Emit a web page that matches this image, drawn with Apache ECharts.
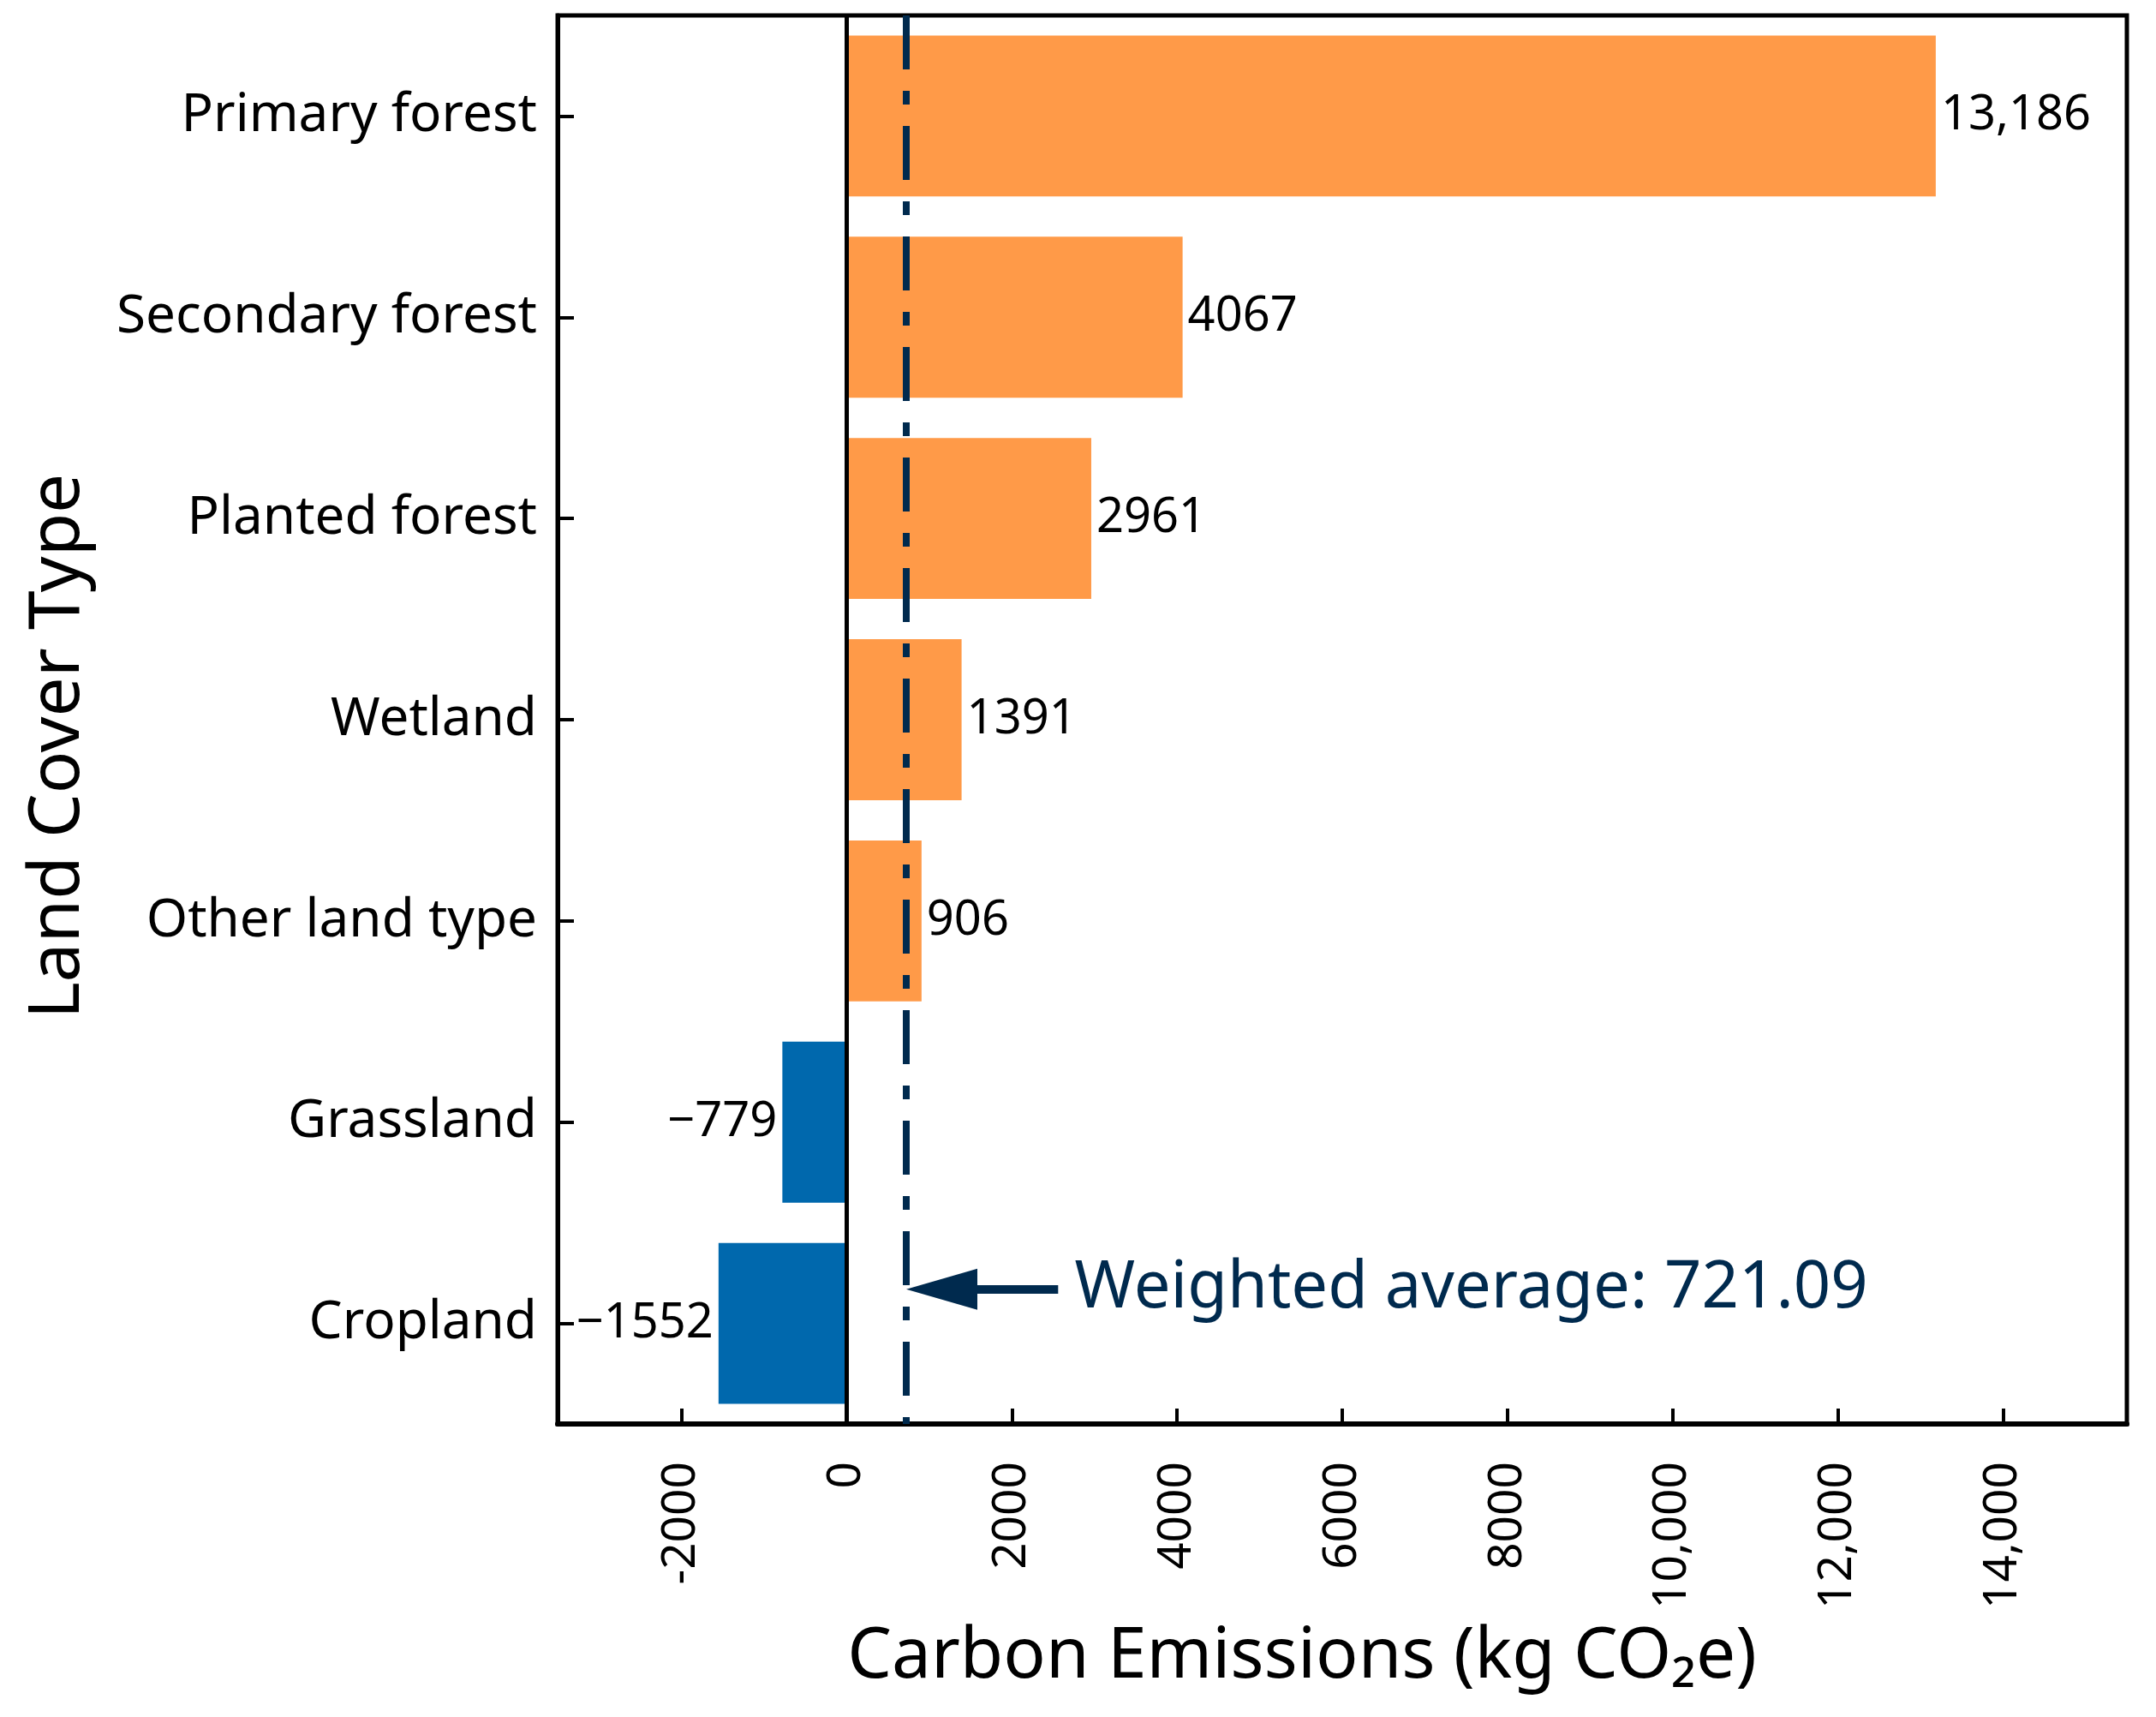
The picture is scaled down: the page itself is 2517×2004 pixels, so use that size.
<!DOCTYPE html>
<html>
<head>
<meta charset="utf-8">
<script src="https://cdn.jsdelivr.net/npm/echarts@6/dist/echarts.min.js"></script>
<style>
  html, body { margin: 0; padding: 0; background: #fff; }
  #chart { width: 2517px; height: 2004px; }
</style>
</head>
<body>
<div id="chart"></div>
<script>
// data
var categories = ['Primary forest', 'Secondary forest', 'Planted forest', 'Wetland', 'Other land type', 'Grassland', 'Cropland'];
var emissions = [13186, 4067, 2961, 1391, 906, -779, -1552];
var xTicks = [-2000, 0, 2000, 4000, 6000, 8000, 10000, 12000, 14000];
var weightedAverage = 721.09;

// annotation placement (data units / row index)
var arrowTail = 2560;
var textStart = 2760;
var arrowRow = 5.83;
var headLen = 83, headWidth = 48;

var ORANGE = '#ff9a48';
var BLUE = '#0068ad';
var NAVY = '#002a4e';
var FONT = 'Noto Sans';

function fmt(v, minus) {
    var a = Math.abs(v);
    var s = a >= 10000 ? String(a).replace(/\B(?=(\d{3})+(?!\d))/g, ',') : String(a);
    return v < 0 ? minus + s : s;
}

var chart = echarts.init(document.getElementById('chart'));

var option = {
    animation: false,
    textStyle: { fontFamily: FONT },
    grid: {
        left: 651, right: 34, top: 18, bottom: 342,
        show: true, borderColor: '#000', borderWidth: 5
    },
    xAxis: {
        type: 'value',
        min: -3500,
        max: 15500,
        axisLine: { show: true, onZero: false, lineStyle: { color: '#000', width: 6 } },
        axisTick: { show: true, inside: true, length: 18, lineStyle: { color: '#000', width: 4 }, customValues: xTicks },
        axisLabel: {
            customValues: xTicks,
            rotate: 90,
            fontSize: 55,
            color: '#000',
            margin: 44,
            fontFamily: FONT,
            formatter: function (v) { return fmt(v, '-'); }
        },
        splitLine: { show: false },
        name: 'Carbon Emissions (kg CO\u2082e)',
        nameLocation: 'middle',
        nameGap: 232,
        nameTextStyle: { fontSize: 82, color: '#000', fontFamily: FONT, padding: [0, 94, 0, 0] }
    },
    yAxis: [{
        type: 'category',
        data: categories,
        inverse: true,
        axisLine: { show: true, onZero: false, lineStyle: { color: '#000', width: 5 } },
        axisTick: { show: true, inside: true, alignWithLabel: true, length: 19, lineStyle: { color: '#000', width: 4 } },
        axisLabel: { fontSize: 62, color: '#000', margin: 24, fontFamily: FONT },
        splitLine: { show: false },
        name: 'Land Cover Type',
        nameLocation: 'middle',
        nameGap: 541,
        nameTextStyle: { fontSize: 82, color: '#000', fontFamily: FONT, padding: [0, 62, 0, 0] }
    }, {
        type: 'value',
        min: -0.5,
        max: 6.5,
        inverse: true,
        show: false
    }],
    series: [{
        type: 'bar',
        barCategoryGap: '20%',
        data: emissions.map(function (v) {
            return {
                value: v,
                itemStyle: { color: v >= 0 ? ORANGE : BLUE },
                label: { position: v >= 0 ? 'right' : 'left' }
            };
        }),
        label: {
            show: true,
            distance: 6,
            fontSize: 56,
            color: '#000',
            fontFamily: FONT,
            formatter: function (p) { return fmt(p.value, '\u2212'); }
        },
        markLine: {
            silent: true,
            symbol: ['none', 'none'],
            label: { show: false },
            data: [
                { xAxis: 0, lineStyle: { color: '#000', width: 5, type: 'solid' } },
                { xAxis: weightedAverage, lineStyle: { color: NAVY, width: 8, type: [63, 25, 16, 25] } }
            ]
        }
    }, {
        type: 'scatter',
        yAxisIndex: 1,
        symbolSize: 0,
        itemStyle: { opacity: 1 },
        data: [[textStart, arrowRow]],
        label: {
            show: true,
            position: 'right',
            distance: 0,
            fontSize: 76,
            color: NAVY,
            opacity: 1,
            fontFamily: FONT,
            formatter: 'Weighted average: ' + weightedAverage
        },
        markLine: {
            silent: true,
            label: { show: false },
            lineStyle: { color: NAVY, width: 10, type: 'solid', opacity: 1 },
            data: [[
                { coord: [arrowTail, arrowRow], symbol: 'none' },
                { coord: [weightedAverage, arrowRow], symbol: 'triangle', symbolSize: [headWidth, headLen] }
            ]]
        }
    }]
};

chart.setOption(option);

// the triangle is centred on its end point; move it so the tip touches the average line
var tipPx = chart.convertToPixel({ xAxisIndex: 0 }, weightedAverage);
var headCentre = chart.convertFromPixel({ xAxisIndex: 0 }, tipPx + headLen / 2);
option.series[1].markLine.data[0][1].coord = [headCentre, arrowRow];
chart.setOption(option);
</script>
</body>
</html>
